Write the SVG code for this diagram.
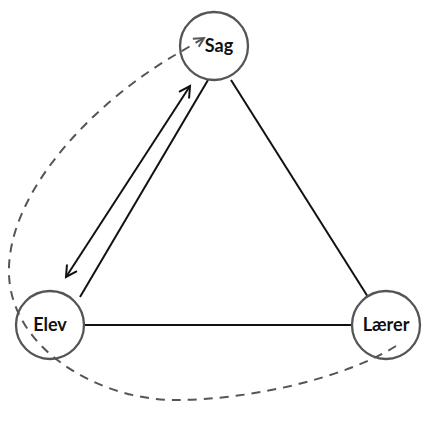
<svg xmlns="http://www.w3.org/2000/svg" width="433" height="431" viewBox="0 0 433 431">
<style>
.node circle{fill:none;stroke:#555;stroke-width:2.3}
.node text{font-family:Lato,"Open Sans","Liberation Sans",sans-serif;font-weight:bold;font-size:18px;fill:#111;text-anchor:middle}
.edge{stroke:#111;stroke-width:2;fill:none}
.dash{stroke:#555;stroke-width:2;fill:none;stroke-dasharray:9 7}
</style>
<defs>
<marker id="arr" markerUnits="userSpaceOnUse" markerWidth="16" markerHeight="16" refX="12" refY="6" orient="auto-start-reverse" overflow="visible">
<path d="M1,0 L12,6 L1,12" fill="none" stroke="#111" stroke-width="2"/>
</marker>
<marker id="arrd" markerUnits="userSpaceOnUse" markerWidth="14" markerHeight="14" refX="10" refY="5" orient="auto" overflow="visible">
<path d="M0,0 L10,5 L1,10" fill="none" stroke="#555" stroke-width="2"/>
</marker>
</defs>
<g id="connectors">
<line class="edge" x1="208" y1="80" x2="80" y2="297"/>
<line class="edge" x1="231" y1="80" x2="368" y2="297"/>
<line class="edge" x1="84" y1="325" x2="352" y2="325"/>
<line class="edge" x1="190" y1="86" x2="66" y2="277" marker-start="url(#arr)" marker-end="url(#arr)"/>
<path class="dash" d="M396,346 C345,378 250,400 175,400 C100,400 12,350 9,275 C6,195 90,105 175,55 L204,38" marker-end="url(#arrd)"/>
</g>
<g id="node-sag" class="node">
<circle cx="214" cy="46" r="34"/>
<text x="219" y="52">Sag</text>
</g>
<g id="node-elev" class="node">
<circle cx="50" cy="325" r="34"/>
<text x="50" y="331">Elev</text>
</g>
<g id="node-laerer" class="node">
<circle cx="386" cy="325" r="34"/>
<text x="386" y="331">Lærer</text>
</g>
</svg>
